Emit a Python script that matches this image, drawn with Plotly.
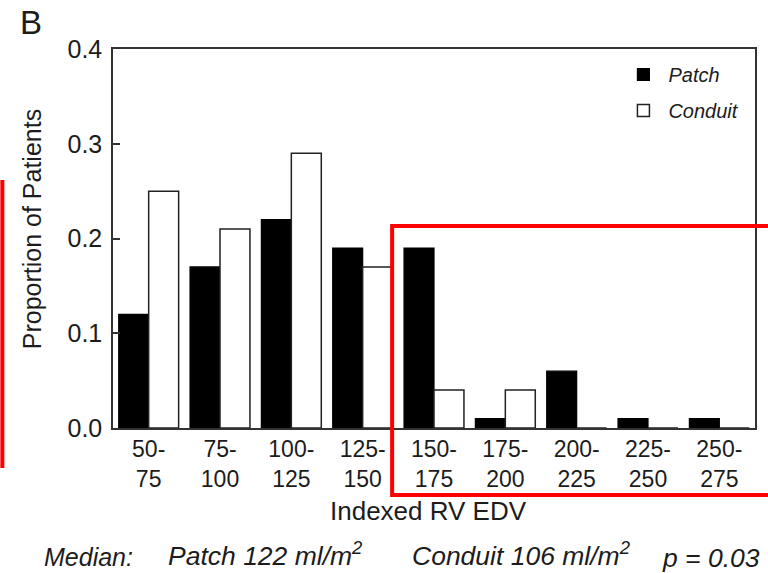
import plotly.graph_objects as go

categories = ["50-<br>75", "75-<br>100", "100-<br>125", "125-<br>150", "150-<br>175",
              "175-<br>200", "200-<br>225", "225-<br>250", "250-<br>275"]
patch = [0.12, 0.17, 0.22, 0.19, 0.19, 0.01, 0.06, 0.01, 0.01]
conduit = [0.25, 0.21, 0.29, 0.17, 0.04, 0.04, 0.0, 0.0, 0.0]
y_ticks = [0.0, 0.1, 0.2, 0.3, 0.4]
y_ticktext = ["0.0", "0.1", "0.2", "0.3", "0.4"]

FONT = "Liberation Sans, Arial, Helvetica, sans-serif"
INK = "#1c1c1c"

W, H = 768, 573
L, R, T, B = 113, 11, 49, 145
PW, PH = W - L - R, H - T - B


def px(x):
    return (x - L) / PW


def py(y):
    return (H - B - y) / PH


fig = go.Figure()
fig.add_trace(go.Bar(x=categories, y=patch, name="<i>Patch</i>", legendgroup="a",
                     marker=dict(color="black", line=dict(color="black", width=1.2))))
fig.add_trace(go.Bar(x=categories, y=conduit, name="<i>Conduit</i>", legendgroup="b",
                     marker=dict(color="white", line=dict(color="#222", width=1.5))))

fig.update_layout(
    width=W, height=H,
    margin=dict(l=L, r=R, t=T, b=B, pad=0),
    paper_bgcolor="white", plot_bgcolor="white",
    barmode="group", bargap=0.16, bargroupgap=0,
    font=dict(family=FONT, color=INK, size=23),
    showlegend=True,
    legend=dict(x=px(620), y=py(55), xanchor="left", yanchor="top",
                bgcolor="rgba(0,0,0,0)", font=dict(size=20, family=FONT, color=INK),
                traceorder="grouped", tracegroupgap=7, itemwidth=40),
)
fig.update_xaxes(
    type="category", range=[-0.5, len(categories) - 0.5],
    showline=True, linecolor="#333", linewidth=1.5, mirror=True,
    ticks="", showgrid=False, zeroline=False,
    tickfont=dict(size=23, family=FONT, color=INK),
)
fig.update_yaxes(
    range=[0, 0.4], tickvals=y_ticks, ticktext=y_ticktext,
    showline=True, linecolor="#333", linewidth=1.5, mirror=True,
    ticks="inside", ticklen=7, tickcolor="#333", tickwidth=1.5,
    showgrid=False, zeroline=False, ticklabelstandoff=4,
    tickfont=dict(size=25, family=FONT, color=INK),
)

ann = [
    dict(text="B", x=px(18), y=py(23), xanchor="left", yanchor="middle",
         font=dict(size=33)),
    dict(text="Proportion of Patients", x=px(32), y=py(229), textangle=-90,
         xanchor="center", yanchor="middle", font=dict(size=25)),
    dict(text="Indexed RV EDV", x=px(429), y=py(511), xanchor="center",
         yanchor="middle", font=dict(size=26)),
    dict(text="<i>Median:</i>", x=px(42), y=py(557), xanchor="left", yanchor="middle",
         font=dict(size=25)),
    dict(text="<i>Patch 122 ml/m<sup>2</sup></i>", x=px(166), y=py(554), xanchor="left",
         yanchor="middle", font=dict(size=26.5)),
    dict(text="<i>Conduit 106 ml/m<sup>2</sup></i>", x=px(411), y=py(554), xanchor="left",
         yanchor="middle", font=dict(size=26.5)),
    dict(text="<i>p = 0.03</i>", x=px(662), y=py(558), xanchor="left", yanchor="middle",
         font=dict(size=26.5)),
]
for a in ann:
    a.update(xref="paper", yref="paper", showarrow=False)
    fig.add_annotation(**a)

red = dict(color="#ff0000", width=4)
fig.add_shape(type="rect", xref="paper", yref="paper",
              x0=px(393), x1=px(790), y0=py(495), y1=py(226), line=red)
fig.add_shape(type="line", xref="paper", yref="paper",
              x0=px(2), x1=px(2), y0=py(468), y1=py(180), line=red)

fig.write_html("out.html")
